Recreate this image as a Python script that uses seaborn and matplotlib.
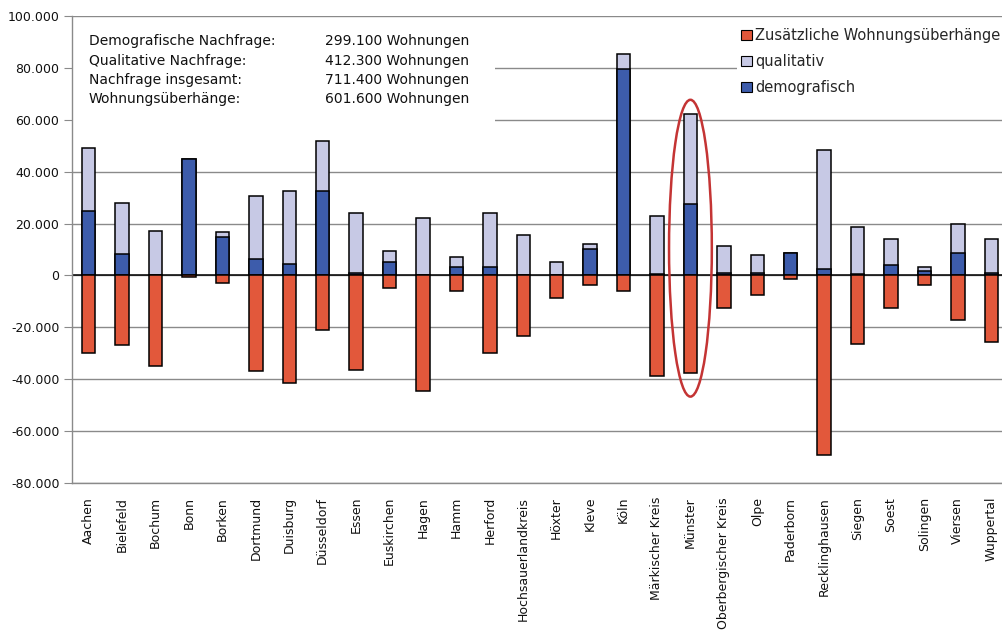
import matplotlib
matplotlib.use("Agg")
import matplotlib.pyplot as plt
from matplotlib.patches import Patch, Rectangle, Ellipse
from matplotlib.ticker import FuncFormatter
import seaborn as sns
import pandas as pd

# Kreise und kreisfreie Städte
regionen = ["Aachen", "Bielefeld", "Bochum", "Bonn", "Borken", "Dortmund", "Duisburg",
            "Düsseldorf", "Essen", "Euskirchen", "Hagen", "Hamm", "Herford",
            "Hochsauerlandkreis", "Höxter", "Kleve", "Köln", "Märkischer Kreis",
            "Münster", "Oberbergischer Kreis", "Olpe", "Paderborn", "Recklinghausen",
            "Siegen", "Soest", "Solingen", "Viersen", "Wuppertal"]

# Demografische Nachfrage (Wohnungen)
demografisch = [24800, 8400, 300, 44800, 14800, 6500, 4300, 32500, 1000, 5200, 300, 3100,
                3100, 200, 200, 10100, 79600, 500, 27700, 1000, 1000, 8800, 2300, 600,
                4000, 1800, 8800, 1000]
# Qualitative Nachfrage (Wohnungen)
qualitativ = [24500, 19700, 16900, 0, 1800, 24100, 28200, 19200, 23100, 4200, 22000, 4000,
              21000, 15200, 5100, 2200, 5800, 22500, 34600, 10200, 6700, 0, 46000, 18200,
              10200, 1600, 11200, 13200]
# Zusätzliche Wohnungsüberhänge (negativ)
ueberhaenge = [-29800, -27000, -34800, -700, -3000, -37000, -41300, -21000, -36400, -4800,
               -44600, -5900, -29900, -23500, -8800, -3500, -5900, -38800, -37700, -12400,
               -7500, -1200, -69400, -26300, -12400, -3600, -17000, -25800]

summen_labels = ["Demografische Nachfrage:", "Qualitative Nachfrage:",
                 "Nachfrage insgesamt:", "Wohnungsüberhänge:"]
summen_werte = ["299.100 Wohnungen", "412.300 Wohnungen",
                "711.400 Wohnungen", "601.600 Wohnungen"]

legende = ["Zusätzliche Wohnungsüberhänge", "qualitativ", "demografisch"]
y_ticks = list(range(-80000, 100001, 20000))
markiert = "Münster"

ROT = "#E2583B"
HELL = "#C7C9E5"
BLAU = "#3D5CAB"
GRID = "#8A8A8A"

sns.set_style("white")
plt.rcParams["font.family"] = ["DejaVu Sans"]

df = pd.DataFrame({
    "region": regionen,
    "demo": demografisch,
    "qual": qualitativ,
    "neg": ueberhaenge,
})
df["gesamt"] = df["demo"] + df["qual"]

fig = plt.figure(figsize=(10.03, 6.30), dpi=100)
ax = fig.add_axes([72 / 1003, 1 - 483 / 630, 936 / 1003, 467 / 630])

bar_kw = dict(width=0.4, edgecolor="black", linewidth=1.1, saturation=1,
              errorbar=None, ax=ax, zorder=3)
sns.barplot(data=df, x="region", y="gesamt", color=HELL, **bar_kw)
sns.barplot(data=df, x="region", y="demo", color=BLAU, **bar_kw)
sns.barplot(data=df, x="region", y="neg", color=ROT, **bar_kw)

ax.set_xlim(-0.5, len(regionen) - 0.5)
ax.set_ylim(y_ticks[0], y_ticks[-1])
ax.set_yticks(y_ticks)
ax.yaxis.set_major_formatter(FuncFormatter(lambda v, p: f"{int(v):,}".replace(",", ".")))
ax.set_xlabel("")
ax.set_ylabel("")

# Gitterlinien und Nulllinie
for v in y_ticks:
    ax.axhline(v, color=GRID, lw=1.0, zorder=0.5)
ax.axhline(0, color="black", lw=1.1, zorder=2)

for s in ["top", "right"]:
    ax.spines[s].set_visible(False)
for s in ["left", "bottom"]:
    ax.spines[s].set_color(GRID)
    ax.spines[s].set_linewidth(1.0)

ax.tick_params(axis="y", direction="out", length=6, color=GRID, labelsize=9,
               left=True, pad=3, labelcolor="#111111")
ax.tick_params(axis="x", length=0, labelsize=9, rotation=90, pad=10, labelcolor="#111111")

# Kasten mit den Summen
ax.add_patch(Rectangle((0.0, 0.762), 0.452, 0.225, transform=ax.transAxes,
                       facecolor="white", edgecolor="none", zorder=1))
for i, (lab, val) in enumerate(zip(summen_labels, summen_werte)):
    y = 1 - (41.5 + 19.2 * i) / 630
    fig.text(89 / 1003, y, lab, fontsize=10, va="center", ha="left", color="#111111", zorder=5)
    fig.text(325 / 1003, y, val, fontsize=10, va="center", ha="left", color="#111111", zorder=5)

# Legende
handles = [Patch(facecolor=c, edgecolor="black", linewidth=0.8) for c in (ROT, HELL, BLAU)]
leg = fig.legend(handles, legende, loc="upper left",
                 bbox_to_anchor=(737 / 1003, 1 - 24 / 630), frameon=True, fancybox=False,
                 framealpha=1, edgecolor="white", fontsize=10.5, handlelength=0.7,
                 handleheight=0.7, handletextpad=0.25, labelspacing=0.75, borderpad=0.3,
                 borderaxespad=0)
leg.get_frame().set_linewidth(0)

# Hervorhebung
idx = regionen.index(markiert)
oben = df.loc[idx, "gesamt"] + 5400
unten = df.loc[idx, "neg"] - 9000
ax.add_patch(Ellipse((idx, (oben + unten) / 2), 1.28, oben - unten, fill=False,
                     edgecolor="#C43434", lw=1.8, zorder=6, clip_on=False))

fig.savefig("out.png", dpi=100, facecolor="white")
